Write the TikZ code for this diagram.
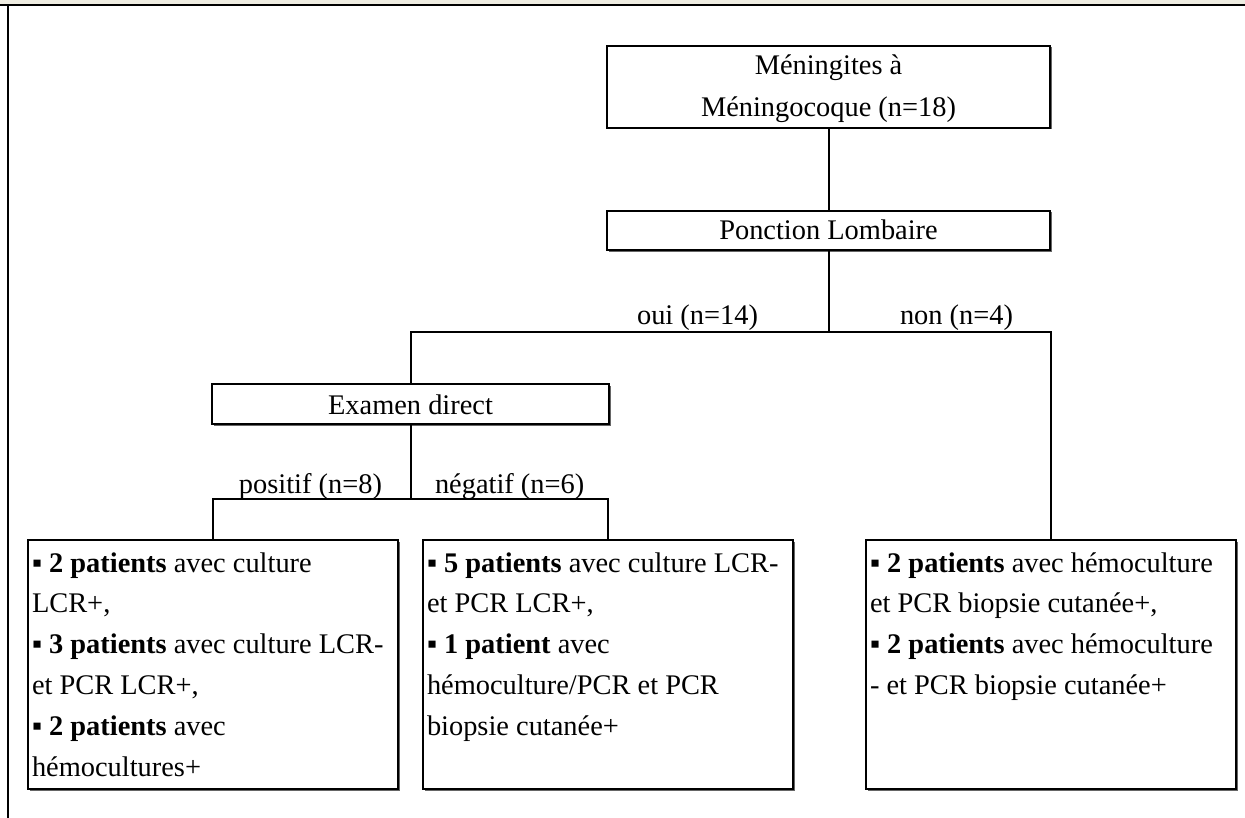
\documentclass[tikz,border=0pt]{standalone}
\usepackage{fontspec}
\setmainfont{Liberation Serif}
\usetikzlibrary{shadows}
\definecolor{stripbg}{RGB}{238,236,225}
\tikzset{
  box/.style={draw, line width=2pt, fill=white, inner sep=0pt, outer sep=0pt,
    drop shadow={shadow xshift=1.5pt, shadow yshift=-1.5pt, fill=black!60, opacity=1}},
  lbl/.style={inner sep=0pt, outer sep=0pt, font=\fontsize{28.4}{42}\selectfont},
  btxt/.style={inner sep=0pt, outer sep=0pt, anchor=base west, font=\fontsize{28.4}{40.8}\selectfont},
  conn/.style={line width=2pt}
}
\newcommand{\bul}{▪}
\begin{document}
\begin{tikzpicture}[x=1pt,y=-1pt]
\useasboundingbox (0,0) rectangle (1245,818);
% frame
\fill[stripbg] (0,0) rectangle (1245,4.5);
\draw[line width=2.2pt] (0,5.2) -- (1245,5.2);
\draw[line width=2pt] (8,5.2) -- (8,818);
% boxes
\node[box, minimum width=443pt, minimum height=82pt] (T) at (828.5,87) {};
\node[lbl, align=center, anchor=base] (Ttxt) at (828.5,117) {Méningites à\\[0pt]Méningocoque (n=18)};
\node[box, minimum width=443pt, minimum height=39.5pt] (P) at (828.5,230.5) {};
\node[lbl, anchor=base] (Ptxt) at (828.5,240) {Ponction Lombaire};
\node[box, minimum width=397pt, minimum height=40pt] (E) at (410.5,404) {};
\node[lbl, anchor=base] (Etxt) at (410.5,414) {Examen direct};
\node[box, minimum width=370pt, minimum height=249pt] (A) at (213,664.5) {};
\node[box, minimum width=370pt, minimum height=249pt] (B) at (608,664.5) {};
\node[box, minimum width=370pt, minimum height=249pt] (C) at (1051,664.5) {};
% box texts
\node[btxt] (Atxt) at (32,572) {\parbox[t]{400pt}{\raggedright
  \textbf{\bul{} 2 patients} avec culture\\
  LCR+,\\
  \textbf{\bul{} 3 patients} avec culture LCR-\\
  et PCR LCR+,\\
  \textbf{\bul{} 2 patients} avec\\
  hémocultures+}};
\node[btxt] (Btxt) at (427,572) {\parbox[t]{400pt}{\raggedright
  \textbf{\bul{} 5 patients} avec culture LCR-\\
  et PCR LCR+,\\
  \textbf{\bul{} 1 patient} avec\\
  hémoculture/PCR et PCR\\
  biopsie cutanée+}};
\node[btxt] (Ctxt) at (870,572) {\parbox[t]{400pt}{\raggedright
  \textbf{\bul{} 2 patients} avec hémoculture\\
  et PCR biopsie cutanée+,\\
  \textbf{\bul{} 2 patients} avec hémoculture\\
  - et PCR biopsie cutanée+}};
% junctions
\coordinate (j1) at (828.5,332);
\coordinate (j2) at (410.5,499);
% connectors
\draw[conn] (T.south) -- (P.north);
\draw[conn] (P.south) -- (j1);
\draw[conn] (E.north) |- (j1) -| (C.north);
\draw[conn] (E.south) -- (j2);
\draw[conn] (A.north) |- (j2) -| (B.north);
% labels
\node[lbl, anchor=base east] (oui) at (758,324) {oui (n=14)};
\node[lbl, anchor=base west] (non) at (900,324) {non (n=4)};
\node[lbl, anchor=base east] (pos) at (382,493) {positif (n=8)};
\node[lbl, anchor=base west] (neg) at (435,493) {négatif (n=6)};
\end{tikzpicture}
\end{document}
